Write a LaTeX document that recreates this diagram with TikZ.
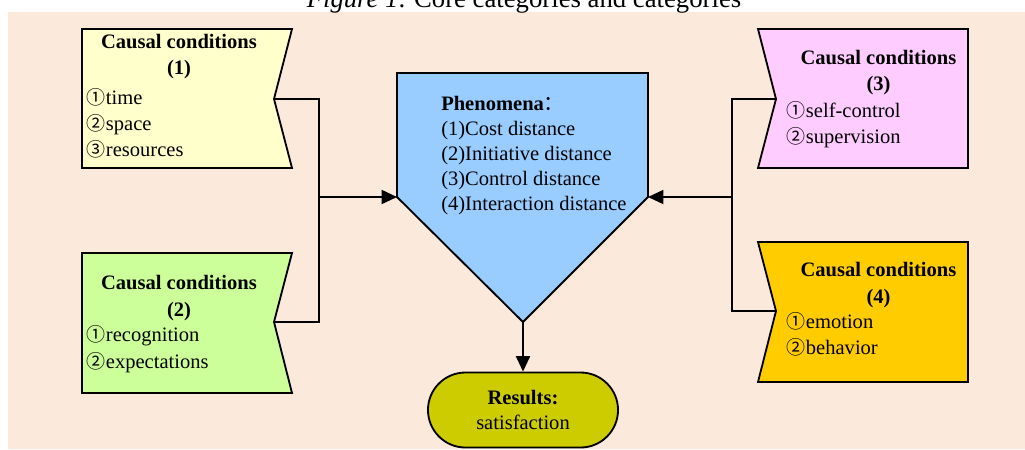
\documentclass[tikz,border=0pt]{standalone}
\usepackage{fontspec}
\setmainfont{Liberation Serif}
\newfontfamily\cjkfont{Noto Sans CJK SC}
\usetikzlibrary{arrows.meta,shapes.misc}
\definecolor{bgpeach}{HTML}{FBE9DC}
\definecolor{condone}{HTML}{FFFFCC}
\definecolor{condtwo}{HTML}{CCFF99}
\definecolor{condthree}{HTML}{FFCCFF}
\definecolor{condfour}{HTML}{FFCC00}
\definecolor{phenblue}{HTML}{99CCFF}
\definecolor{resolive}{HTML}{CCCC00}
\newcommand{\cnum}[1]{{\cjkfont\fontsize{13.5}{18}\selectfont #1}}
\begin{document}
\begin{tikzpicture}[x=0.025cm,y=-0.025cm,
	box/.style={line width=1.3pt,draw=black},
	link/.style={line width=1.3pt},
	arrow/.style={line width=1.3pt,-{Triangle[length=11pt,width=10pt]}},
	ttl/.style={inner sep=0pt,anchor=base,align=center,font=\bfseries\fontsize{14.6}{18.6}\selectfont},
	txt/.style={inner sep=0pt,anchor=base west,align=left,font=\fontsize{14.6}{18.6}\selectfont}]
		\useasboundingbox (0,0) rectangle (1025,449);
		\fill[color=bgpeach] (8,12) rectangle (1025,449);
		\node[anchor=base,inner sep=0pt,font=\fontsize{19}{22}\selectfont] (cap) at (524,7) {\textit{Figure 1}. Core categories and categories};
		% Causal conditions (1)
		\fill[color=condone,box] (82,29) -- (292,29) -- (274,99) -- (292,168) -- (82,168) -- cycle;
		\coordinate (n1) at (274,99);
		\node[ttl] (t1) at (179,74.5) {Causal conditions\\(1)};
		\node[txt] (l1) at (86.7,156.5) {\cnum{①}time\\\cnum{②}space\\\cnum{③}resources};
		% Causal conditions (2)
		\fill[color=condtwo,box] (82,253) -- (292,253) -- (274,322) -- (292,393) -- (82,393) -- cycle;
		\coordinate (n2) at (274,322);
		\node[ttl] (t2) at (179,316) {Causal conditions\\(2)};
		\node[txt] (l2) at (86.7,368) {\cnum{①}recognition\\\cnum{②}expectations};
		% Causal conditions (3)
		\fill[color=condthree,box] (758,29) -- (968,29) -- (968,168) -- (758,168) -- (776,99) -- cycle;
		\coordinate (n3) at (776,99);
		\node[ttl] (t3) at (878.5,90.3) {Causal conditions\\(3)};
		\node[txt] (l3) at (786.7,143.2) {\cnum{①}self-control\\\cnum{②}supervision};
		% Causal conditions (4)
		\fill[color=condfour,box] (758,242) -- (968,242) -- (968,382) -- (758,382) -- (776,311) -- cycle;
		\coordinate (n4) at (776,311);
		\node[ttl] (t4) at (878.5,303) {Causal conditions\\(4)};
		\node[txt] (l4) at (786.7,354.8) {\cnum{①}emotion\\\cnum{②}behavior};
		% Phenomena
		\fill[color=phenblue,box] (397,73) -- (648,73) -- (648,197) -- (523,322) -- (397,197) -- cycle;
		\coordinate (phL) at (397,197);
		\coordinate (phR) at (648,197);
		\coordinate (phB) at (523,322);
		\node[txt,font=\fontsize{14.6}{17.7}\selectfont] (ph) at (441,210) {\textbf{Phenomena}{\cjkfont ：}\\(1)Cost distance\\(2)Initiative distance\\(3)Control distance\\(4)Interaction distance};
		% Results
		\node[shape=rounded rectangle,box,fill=resolive,minimum width=4.75cm,minimum height=1.875cm,align=center,inner sep=0pt,font=\fontsize{14.6}{17.7}\selectfont] (res) at (523,410) {\textbf{Results:}\\satisfaction};
		% connectors
		\coordinate (jL) at (319,197);
		\coordinate (jR) at (732,197);
		\draw[arrow] (n1) -| (jL) -- (phL);
		\draw[link] (n2) -| (jL);
		\draw[arrow] (n3) -| (jR) -- (phR);
		\draw[link] (n4) -| (jR);
		\draw[arrow] (phB) -- (res);
\end{tikzpicture}
\end{document}
